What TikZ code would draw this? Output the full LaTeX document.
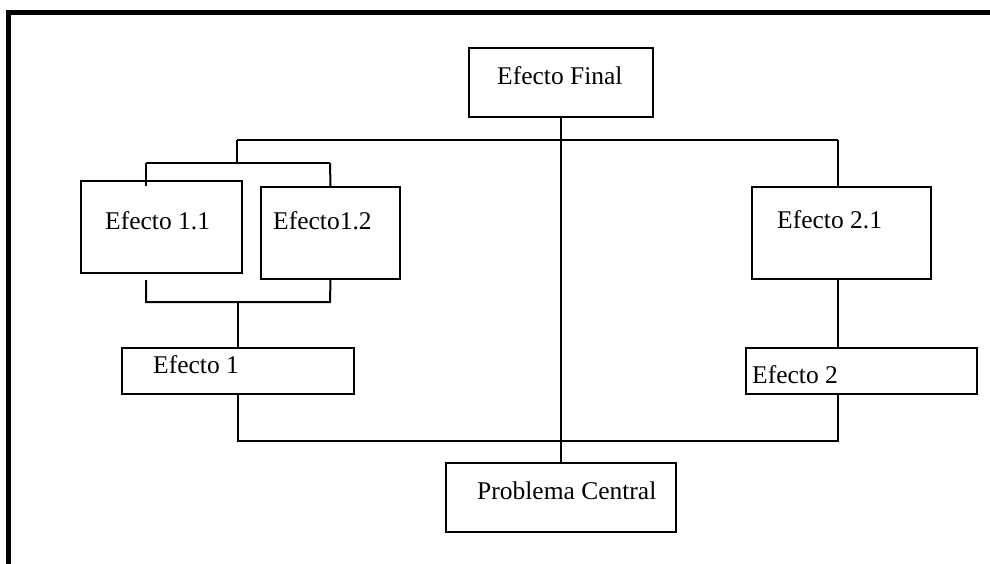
\documentclass[tikz,border=0pt]{standalone}
\usepackage{fontspec}
\setmainfont{Liberation Serif}
\begin{document}
\begin{tikzpicture}[x=1pt,y=-1pt,
  box/.style={draw,line width=2pt,inner sep=0pt,rectangle},
  txt/.style={anchor=base west,inner sep=0pt,font=\fontsize{25.5}{30}\selectfont},
  wire/.style={line width=2pt}]
\useasboundingbox (0,0) rectangle (990,563);
% frame: top and left edges only
\draw[line width=5pt,line join=miter] (8.5,575) -- (8.5,12.5) -- (1000,12.5);

% boxes
\node[box] (final) at (561,82.5) [minimum width=184pt,minimum height=69pt] {};
\node[box] (e11) at (161.5,227) [minimum width=161pt,minimum height=92pt] {};
\node[box] (e12) at (330.5,233) [minimum width=139pt,minimum height=92pt] {};
\node[box] (e21) at (841.5,233) [minimum width=179pt,minimum height=92pt] {};
\node[box] (e1) at (238,371) [minimum width=232pt,minimum height=46pt] {};
\node[box] (e2) at (861.5,371) [minimum width=231pt,minimum height=46pt] {};
\node[box] (pc) at (561,497.5) [minimum width=230pt,minimum height=69pt] {};

% labels
\node[txt] (tfinal) at (497,84) {Efecto Final};
\node[txt] (te11) at (105,229) {Efecto 1.1};
\node[txt] (te12) at (273,229) {Efecto1.2};
\node[txt] (te21) at (777,228) {Efecto 2.1};
\node[txt] (te1) at (153,373) {Efecto 1};
\node[txt] (te2) at (752,383) {Efecto 2};
\node[txt] (tpc) at (477,499) {Problema Central};

% junction points
\coordinate (busL) at (237,140);
\coordinate (busR) at (838,140);
\coordinate (subT) at (237,163);
\coordinate (subTL) at (146,163);
\coordinate (subTR) at (330,163);
\coordinate (subBL) at (146,302);
\coordinate (subBR) at (330,302);
\coordinate (subB) at (238,302);
\coordinate (botL) at (238,441);
\coordinate (botR) at (838,441);

% trunk from the final effect down to the central problem
\draw[wire] (final.south) -- (pc.north);
% upper bus
\draw[wire] (busL) -- (busR);
\draw[wire] (busL) -- (subT);
\draw[wire] (subTL) -- (subTR);
\draw[wire] (subTL) -- (subTL |- e12.north);
\draw[wire] (subTR) -- (e12.north);
\draw[wire] (busR) -- (busR |- e21.north);
% lower joins of effects 1.1 and 1.2
\draw[wire] (subTL |- e12.south) -- (subBL) -- (subBR) -- (e12.south);
\draw[wire] (subB) -- (e1.north);
% second branch
\draw[wire] (busR |- e21.south) -- (busR |- e2.north);
% lower bus into the central problem
\draw[wire] (e1.south) -- (botL) -- (botR) -- (botR |- e2.south);
\end{tikzpicture}
\end{document}
